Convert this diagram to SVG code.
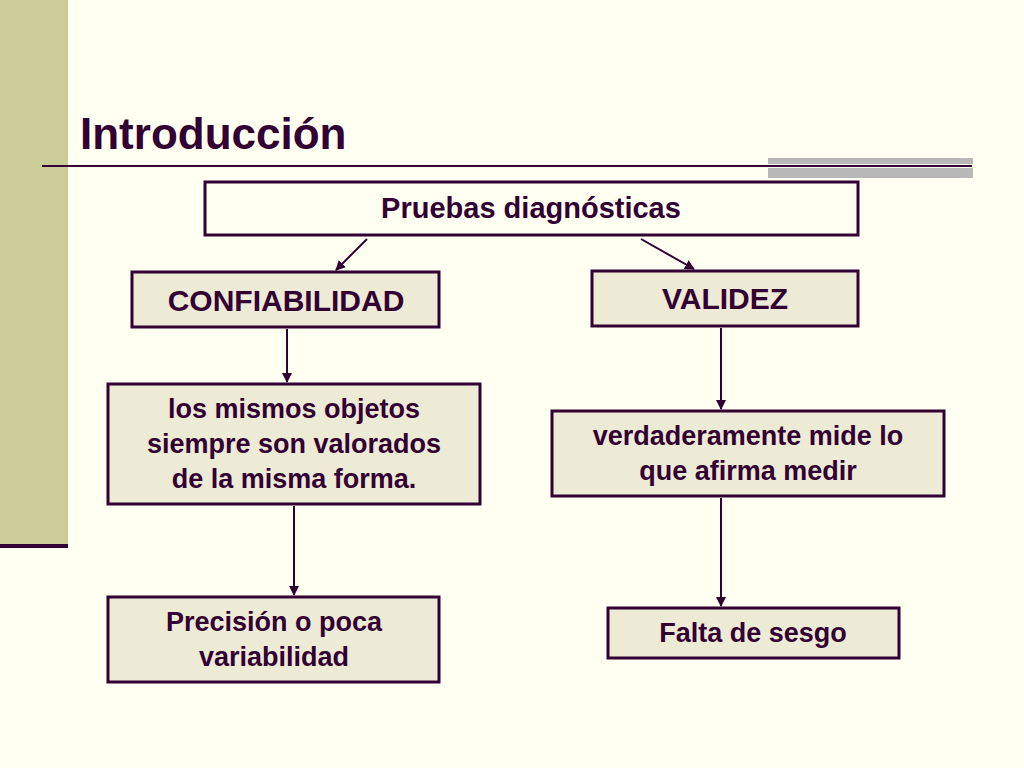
<svg xmlns="http://www.w3.org/2000/svg" width="1024" height="768" viewBox="0 0 1024 768">
<defs>
<style>
.b{fill:#EDEBD5;stroke:#330033;stroke-width:3}
.t{font-family:"Liberation Sans",Arial,sans-serif;font-weight:bold;fill:#330033;text-anchor:middle}
.c{stroke:#330033;stroke-width:2;fill:none}
</style>
<marker id="a" viewBox="0 0 10 10" refX="9" refY="5" markerWidth="5" markerHeight="5" orient="auto"><path d="M0,0L10,5L0,10z" fill="#330033"/></marker>
</defs>
<rect width="1024" height="768" fill="#FFFFF2"/>
<rect x="0" y="0" width="68" height="546" fill="#CCCC99"/>
<rect x="0" y="544" width="68" height="4" fill="#330033"/>
<rect x="768" y="158" width="205" height="20" fill="#B8B8B8"/>
<rect x="768" y="164" width="205" height="4" fill="#FFFFF2"/>
<line x1="42" y1="166" x2="972" y2="166" stroke="#330033" stroke-width="2"/>
<text x="80" y="149" class="t" style="text-anchor:start;font-size:44px">Introducción</text>
<g id="n0"><rect x="205" y="182" width="653" height="53" fill="#FFFFF2" stroke="#330033" stroke-width="3"/><text x="531" y="218" class="t" font-size="29">Pruebas diagnósticas</text></g>
<g id="n1"><rect x="132" y="272" width="307" height="55" class="b"/><text x="286" y="311" class="t" font-size="30">CONFIABILIDAD</text></g>
<g id="n2"><rect x="592" y="271" width="266" height="55" class="b"/><text x="725" y="309" class="t" font-size="30">VALIDEZ</text></g>
<g id="n3"><rect x="108" y="384" width="372" height="120" class="b"/><text class="t" font-size="27"><tspan x="294" y="418">los mismos objetos</tspan><tspan x="294" y="453">siempre son valorados</tspan><tspan x="294" y="488">de la misma forma.</tspan></text></g>
<g id="n4"><rect x="552" y="411" width="392" height="85" class="b"/><text class="t" font-size="27"><tspan x="748" y="445">verdaderamente mide lo</tspan><tspan x="748" y="480">que afirma medir</tspan></text></g>
<g id="n5"><rect x="108" y="597" width="331" height="85" class="b"/><text class="t" font-size="27"><tspan x="274" y="631">Precisión o poca</tspan><tspan x="274" y="666">variabilidad</tspan></text></g>
<g id="n6"><rect x="608" y="608" width="291" height="50" class="b"/><text x="753" y="642" class="t" font-size="27">Falta de sesgo</text></g>
<g id="conn">
<line x1="367" y1="239" x2="336" y2="270" class="c" marker-end="url(#a)"/>
<line x1="641" y1="239" x2="694" y2="269" class="c" marker-end="url(#a)"/>
<line x1="287" y1="329" x2="287" y2="382" class="c" marker-end="url(#a)"/>
<line x1="721" y1="328" x2="721" y2="409" class="c" marker-end="url(#a)"/>
<line x1="294" y1="506" x2="294" y2="595" class="c" marker-end="url(#a)"/>
<line x1="721" y1="498" x2="721" y2="606" class="c" marker-end="url(#a)"/>
</g>
</svg>
